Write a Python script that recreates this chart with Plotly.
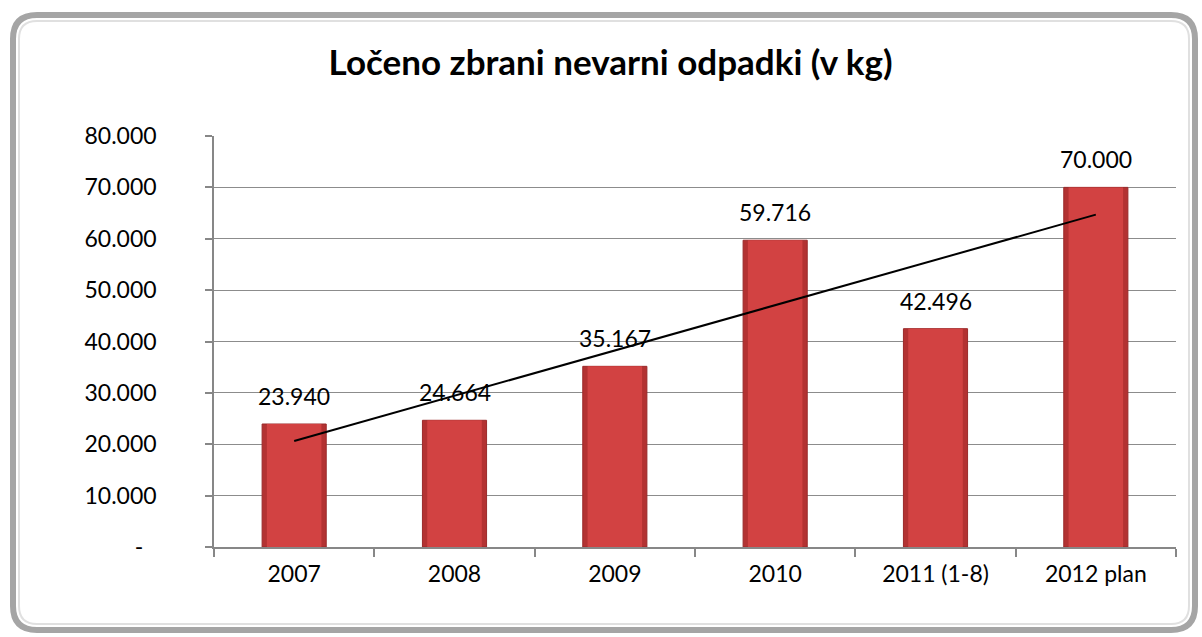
import numpy as np
import plotly.graph_objects as go

categories = ["2007", "2008", "2009", "2010", "2011 (1-8)", "2012 plan"]
values = [23940, 24664, 35167, 59716, 42496, 70000]
y_tickvals = [0, 10000, 20000, 30000, 40000, 50000, 60000, 70000, 80000]
y_ticktext = ["-\u2007", "10.000", "20.000", "30.000", "40.000", "50.000", "60.000", "70.000", "80.000"]
title = "Ločeno zbrani nevarni odpadki (v kg)"

# linear trendline (least squares, like Excel's linear trend)
xi = np.arange(1, len(values) + 1)
slope, intercept = np.polyfit(xi, values, 1)
trend = (slope * xi + intercept).tolist()

FONT = "Lato, 'Open Sans', sans-serif"
FS = 23

fig = go.Figure()
fig.add_trace(go.Bar(
    x=categories, y=values,
    width=0.4,
    marker=dict(color="#B33232", line=dict(color="#9A2A2A", width=1)),
    showlegend=False,
))
# inner face to suggest bevel
fig.add_trace(go.Bar(
    x=categories, y=values,
    width=0.34,
    marker=dict(color="#D24242", line=dict(width=0)),
    showlegend=False, hoverinfo="skip",
))
fig.add_trace(go.Scatter(
    x=categories, y=trend, mode="lines",
    line=dict(color="#000000", width=2),
    showlegend=False,
))

# data labels (category index used as x position)
for i, v in enumerate(values):
    fig.add_annotation(x=i, y=v, xref="x", yref="y",
                       text=f"{v:,}".replace(",", "."),
                       showarrow=False, yshift=28, yanchor="middle",
                       font=dict(size=FS, color="#000000", family=FONT))

fig.update_layout(
    width=1202, height=637,
    barmode="overlay",
    separators=",.",
    paper_bgcolor="#FFFFFF", plot_bgcolor="#FFFFFF",
    margin=dict(l=214, r=26, t=136, b=90),
    title=dict(text="<b>" + title + "</b>", x=0.508, xanchor="center",
               y=0.902, yanchor="middle",
               font=dict(size=35, color="#000000", family=FONT)),
    font=dict(family=FONT, size=FS, color="#000000"),
    xaxis=dict(
        type="category",
        showline=True, linecolor="#878787", linewidth=1.5,
        ticks="outside", ticklen=8, tickcolor="#878787", tickwidth=1.5,
        tickson="boundaries", showgrid=False,
        tickfont=dict(size=FS, family=FONT, color="#000000"),
        ticklabelstandoff=6,
        range=[-0.5, 5.5],
    ),
    yaxis=dict(
        range=[0, 80000], tickvals=y_tickvals, ticktext=y_ticktext,
        showline=True, linecolor="#878787", linewidth=1.5,
        ticks="outside", ticklen=7, tickcolor="#878787", tickwidth=1.5,
        showgrid=True, gridcolor="#8C8C8C", gridwidth=1.2,
        tickfont=dict(size=FS, family=FONT, color="#000000"),
        ticklabelstandoff=44,
        zeroline=False,
    ),
)

# rounded outer frame (paper coordinates relative to plot area)
pw, ph = 1202 - 214 - 26, 637 - 136 - 90
def px(xpix):
    return (xpix - 214) / pw
def py(ypix):
    return (637 - 90 - ypix) / ph

def rounded(x0, y0, x1, y1, r):
    return (
        f"M {px(x0 + r)},{py(y0)} L {px(x1 - r)},{py(y0)} "
        f"Q {px(x1)},{py(y0)} {px(x1)},{py(y0 + r)} "
        f"L {px(x1)},{py(y1 - r)} Q {px(x1)},{py(y1)} {px(x1 - r)},{py(y1)} "
        f"L {px(x0 + r)},{py(y1)} Q {px(x0)},{py(y1)} {px(x0)},{py(y1 - r)} "
        f"L {px(x0)},{py(y0 + r)} Q {px(x0)},{py(y0)} {px(x0 + r)},{py(y0)} Z"
    )

fig.add_shape(type="path", path=rounded(13, 15, 1195, 630, 24), xref="paper", yref="paper",
              line=dict(color="#A5A5A5", width=6), layer="below")
fig.add_shape(type="path", path=rounded(19, 21, 1189, 624, 18), xref="paper", yref="paper",
              line=dict(color="#E0E0E0", width=2), layer="below")

fig.write_html("out.html", config={"displayModeBar": False},
               post_script="document.body.style.margin='0';document.body.style.padding='0';")
